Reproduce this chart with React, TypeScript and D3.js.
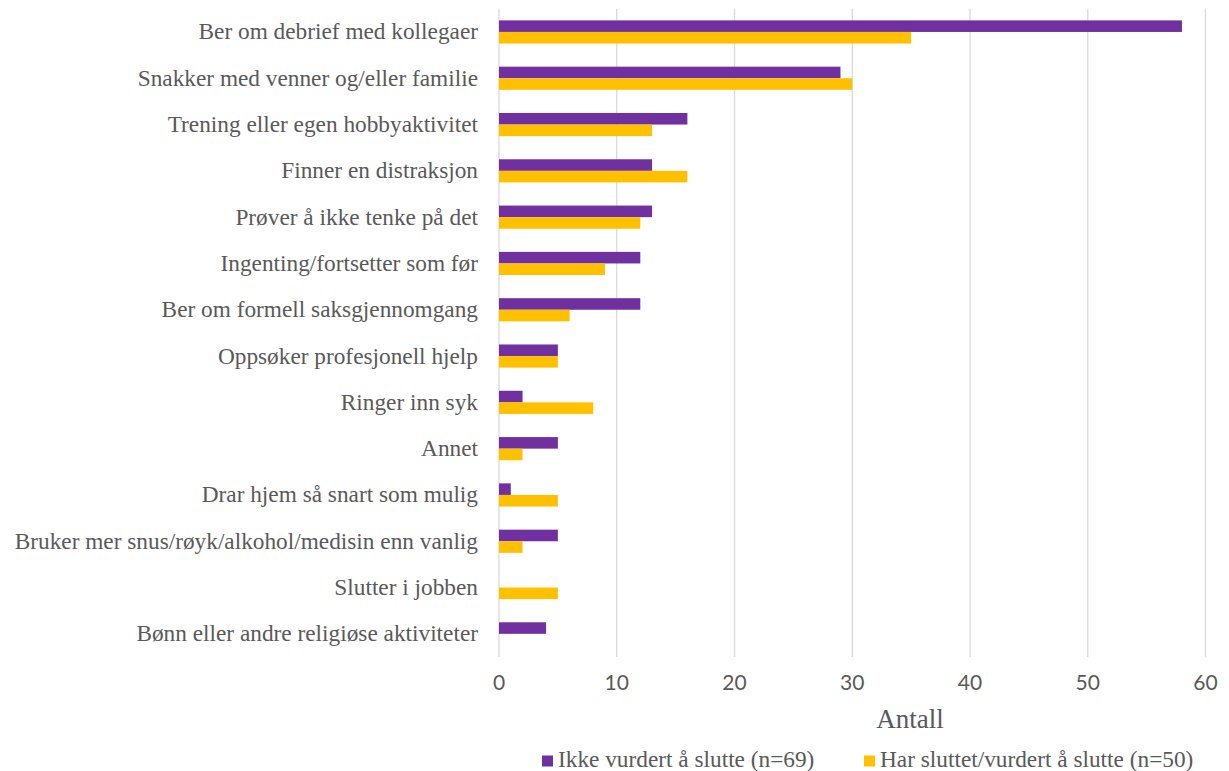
import React from "react";
import * as d3 from "d3";

const categories = [
  "Ber om debrief med kollegaer",
  "Snakker med venner og/eller familie",
  "Trening eller egen hobbyaktivitet",
  "Finner en distraksjon",
  "Prøver å ikke tenke på det",
  "Ingenting/fortsetter som før",
  "Ber om formell saksgjennomgang",
  "Oppsøker profesjonell hjelp",
  "Ringer inn syk",
  "Annet",
  "Drar hjem så snart som mulig",
  "Bruker mer snus/røyk/alkohol/medisin enn vanlig",
  "Slutter i jobben",
  "Bønn eller andre religiøse aktiviteter",
];
const ikkeVurdert = [58, 29, 16, 13, 13, 12, 12, 5, 2, 5, 1, 5, 0, 4];
const harSluttet = [35, 30, 13, 16, 12, 9, 6, 5, 8, 2, 5, 2, 5, 0];
const seriesNames = ["Ikke vurdert å slutte (n=69)", "Har sluttet/vurdert å slutte (n=50)"];
const seriesColors = ["#7030A0", "#FFC000"];
const xTicks = [0, 10, 20, 30, 40, 50, 60];
const xTitle = "Antall";

export default function App() {
  const W = 1229, H = 771;
  const x = d3.scaleLinear().domain([0, 60]).range([499, 1205.5]);
  const y = d3.scaleBand<string>().domain(categories).range([8.8, 657]).paddingInner(0.5).paddingOuter(0.25);
  const sub = d3.scaleBand<number>().domain([0, 1]).range([0, y.bandwidth()]);
  const series = [ikkeVurdert, harSluttet];
  const textColor = "#595959";
  const serif = "'Liberation Serif', 'Times New Roman', serif";
  return (
    <svg width={W} height={H} style={{ position: "absolute", left: 0, top: 0, background: "#fff" }}>
      {xTicks.map((t) => (
        <line key={"g" + t} x1={x(t)} x2={x(t)} y1={8.8} y2={657} stroke="#d9d9d9" strokeWidth={1.3} />
      ))}
      {series.map((vals, si) =>
        vals.map((v, i) => (
          <rect
            key={si + "-" + i}
            x={x(0)}
            y={(y(categories[i]) as number) + (sub(si) as number)}
            width={x(v) - x(0)}
            height={sub.bandwidth()}
            fill={seriesColors[si]}
          />
        ))
      )}
      {categories.map((c) => (
        <text
          key={c}
          x={478}
          y={(y(c) as number) + y.bandwidth() / 2 + 7.5}
          textAnchor="end"
          fontFamily={serif}
          fontSize={23.3}
          fill={textColor}
        >
          {c}
        </text>
      ))}
      {xTicks.map((t) => (
        <text key={"t" + t} x={x(t)} y={690} textAnchor="middle" fontFamily="Lato, sans-serif" fontSize={21} fill={textColor}>
          {t}
        </text>
      ))}
      <text x={910} y={728} textAnchor="middle" fontFamily={serif} fontSize={27} fill={textColor}>
        {xTitle}
      </text>
      {[542, 864].map((lx, si) => (
        <g key={"l" + si}>
          <rect x={lx} y={755.5} width={11} height={11} fill={seriesColors[si]} />
          <text x={lx + 16} y={767} fontFamily={serif} fontSize={23.3} fill={textColor}>
            {seriesNames[si]}
          </text>
        </g>
      ))}
    </svg>
  );
}
